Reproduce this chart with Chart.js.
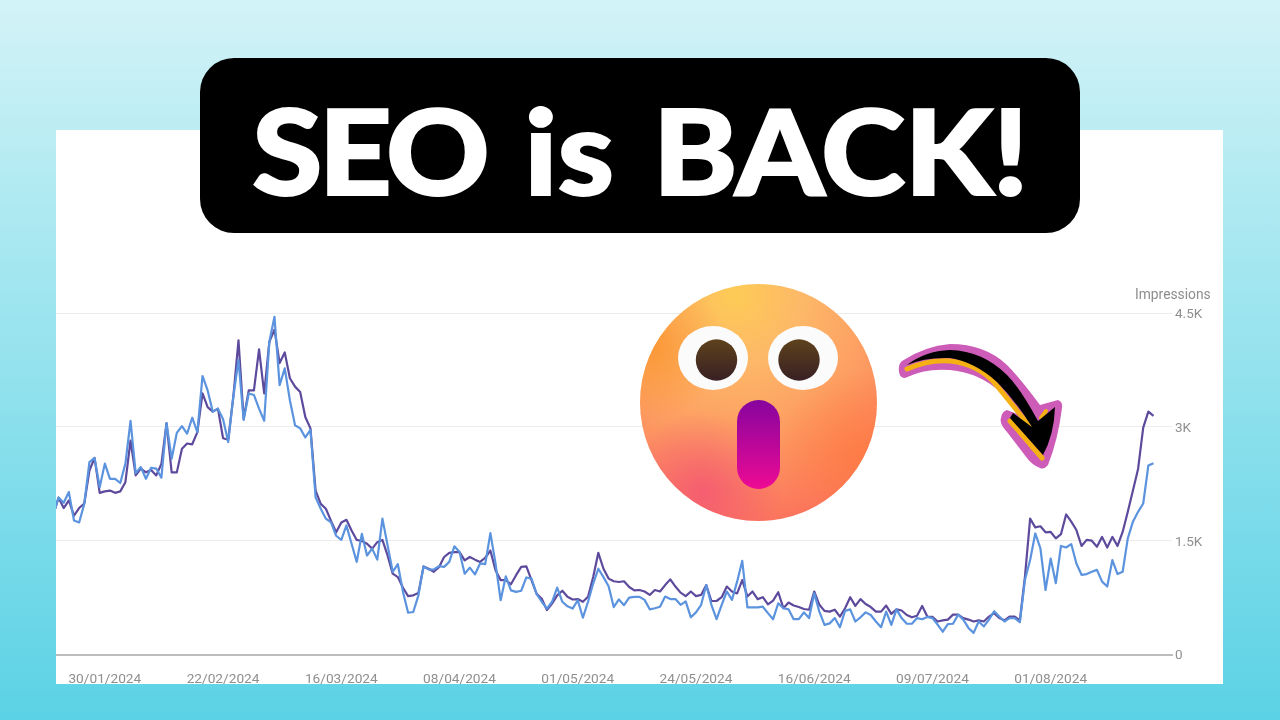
<!DOCTYPE html>
<html>
<head>
<meta charset="utf-8">
<title>SEO is BACK!</title>
<script src="https://cdn.jsdelivr.net/npm/chart.js@4"></script>
<style>
  html, body { margin: 0; padding: 0; }
  body {
    width: 1280px; height: 720px; position: relative; overflow: hidden;
    background: linear-gradient(180deg, #d3f3f7 0%, #a6e7f0 35%, #5bd2e5 100%);
    font-family: Roboto, sans-serif;
  }
  #panel { position: absolute; left: 56px; top: 130px; width: 1167px; height: 554px; background: #fff; overflow: hidden; }
  #growthChart { position: absolute; left: 0; top: 0; filter: blur(0.45px); }
  #metric { position: absolute; left: 1135px; top: 286px; font-size: 13.8px; color: #8d8d8d; filter: blur(0.3px); }
  #pill {
    position: absolute; left: 200px; top: 58px; width: 880px; height: 175px;
    background: #000; border-radius: 34px; color: #fff; text-align: center;
    font: 900 128px/175px Lato, sans-serif; white-space: nowrap;
  }
  #pill .title {
    display: inline-block; transform: scaleY(0.92); transform-origin: 50% 80%;
    -webkit-text-stroke: 2px #fff; word-spacing: 8px;
  }
  #pill .w1 { letter-spacing: -4px; }
  #pill .w3 { letter-spacing: -1px; }
  svg { position: absolute; left: 0; top: 0; }
</style>
</head>
<body>
<div id="panel"><canvas id="growthChart" width="1167" height="554"></canvas></div>
<div id="metric">Impressions</div>
<div id="pill"><span class="title"><span class="w1">SEO</span> is <span class="w3">BACK!</span></span></div>
<svg width="1280" height="720" viewBox="0 0 1280 720">
  <defs>
    <radialGradient id="faceGlow" gradientUnits="userSpaceOnUse" cx="735" cy="295" r="240">
      <stop offset="0" stop-color="#fdcb55"/>
      <stop offset="0.28" stop-color="#fdb868"/>
      <stop offset="0.6" stop-color="#fd9c62"/>
      <stop offset="1" stop-color="#fb6f5c"/>
    </radialGradient>
    <radialGradient id="faceLeft" gradientUnits="userSpaceOnUse" cx="650" cy="345" r="75">
      <stop offset="0" stop-color="#fb9530" stop-opacity="0.9"/>
      <stop offset="1" stop-color="#fb9530" stop-opacity="0"/>
    </radialGradient>
    <radialGradient id="faceRight" gradientUnits="userSpaceOnUse" cx="860" cy="455" r="85">
      <stop offset="0" stop-color="#ff7a3c" stop-opacity="0.7"/>
      <stop offset="1" stop-color="#ff7a3c" stop-opacity="0"/>
    </radialGradient>
    <radialGradient id="faceRed" gradientUnits="userSpaceOnUse" cx="703" cy="492" r="80">
      <stop offset="0" stop-color="#f45a72" stop-opacity="0.9"/>
      <stop offset="1" stop-color="#f45a72" stop-opacity="0"/>
    </radialGradient>
    <linearGradient id="pupil" x1="0" y1="0" x2="0" y2="1">
      <stop offset="0" stop-color="#5e421c"/>
      <stop offset="1" stop-color="#382024"/>
    </linearGradient>
    <linearGradient id="mouth" x1="0" y1="0" x2="0" y2="1">
      <stop offset="0" stop-color="#86049e"/>
      <stop offset="1" stop-color="#ee0a94"/>
    </linearGradient>
    <clipPath id="faceClip"><circle cx="758.5" cy="402.5" r="118.5"/></clipPath>
  </defs>
  <g clip-path="url(#faceClip)">
    <rect x="640" y="284" width="237" height="237" fill="url(#faceGlow)"/>
    <rect x="640" y="284" width="237" height="237" fill="url(#faceLeft)"/>
    <rect x="640" y="284" width="237" height="237" fill="url(#faceRight)"/>
    <rect x="640" y="284" width="237" height="237" fill="url(#faceRed)"/>
  </g>
  <ellipse cx="713" cy="358" rx="35" ry="32" fill="#fbfbfb"/>
  <ellipse cx="803" cy="358" rx="35" ry="32" fill="#fbfbfb"/>
  <circle cx="716.5" cy="360" r="20.7" fill="url(#pupil)"/>
  <circle cx="799" cy="360" r="20.7" fill="url(#pupil)"/>
  <rect x="737" y="400" width="43" height="89" rx="21.5" fill="url(#mouth)"/>
  <path fill="#cc5cb8"
    d="M899 372 Q898 364 902 361 Q925 346 950 344 Q985 344 1007 365 Q1020 378 1040 405 L1058 400 Q1063 402 1062 408 Q1058 440 1048 465 Q1044 470 1040 468 Q1032 465 1027 458 L1007 432 Q999 423 1001 418 Q1002 411 1007 410 L1020 415 Q1012 402 1000 392 Q980 373 950 370 Q925 368 905 378 Q900 378 899 372 Z"/>
  <g fill="none" stroke="#f5b014" stroke-linecap="round">
    <path d="M907 369 Q930 359 950 361 Q980 364 998 387 L1031 428" stroke-width="5"/>
    <path d="M1010 421 L1042 458" stroke-width="5"/>
    <path d="M1041 418 L1046 411" stroke-width="4"/>
  </g>
  <path fill="#000"
    d="M907 365 Q925 351 950 350 Q983 351 1007 375 Q1020 388 1038 421 L1055 407 Q1054 435 1043 455 L1010 418 L1013 413 L1032 427 Q1015 400 997 382 Q975 362 950 358 Q925 357 907 365 Z"/>
</svg>
<script>
const firstDay = new Date(2024, 0, 20);
const tickLabels = ['30/01/2024', '22/02/2024', '16/03/2024', '08/04/2024', '01/05/2024',
  '24/05/2024', '16/06/2024', '09/07/2024', '01/08/2024'];
const valueTicks = { 0: '0', 1500: '1.5K', 3000: '3K', 4500: '4.5K' };

const darkSeries = [
  1850, 2065, 1930, 2030, 1830, 1930, 1990, 2425, 2590, 2130,
  2150, 2160, 2130, 2150, 2270, 2820, 2360, 2450, 2400, 2430,
  2360, 2510, 3050, 2400, 2400, 2710, 2780, 2770, 2930, 3440,
  3260, 3200, 3240, 2850, 2830, 3400, 4140, 3110, 3480, 3480,
  4020, 3440, 4120, 4280, 3840, 3980, 3640, 3530, 3460, 3130,
  2980, 2160, 1985, 1920, 1760, 1610, 1740, 1775, 1635, 1510,
  1495, 1460, 1395, 1480, 1510, 1305, 1065, 1020, 880, 770,
  780, 810, 1160, 1130, 1090, 1150, 1285, 1340, 1350, 1350,
  1240, 1285, 1250, 1220, 1275, 1370, 1110, 980, 980, 925,
  1045, 1155, 1160, 980, 800, 735, 585, 670, 780, 840,
  760, 725, 730, 695, 760, 1020, 1340, 1130, 1000, 965,
  955, 965, 890, 845, 850, 830, 785, 850, 830, 915,
  990, 895, 815, 770, 830, 770, 785, 915, 705, 705,
  755, 895, 830, 805, 980, 765, 830, 730, 755, 660,
  710, 820, 610, 685, 645, 625, 600, 590, 830, 655,
  575, 565, 590, 500, 610, 755, 640, 730, 665, 625,
  565, 565, 645, 535, 595, 580, 520, 490, 510, 640,
  500, 495, 435, 450, 460, 525, 525, 480, 460, 435,
  450, 435, 500, 545, 480, 450, 500, 500, 450, 1030,
  1790, 1675, 1690, 1610, 1615, 1530, 1585, 1845, 1750, 1640,
  1430, 1510, 1500, 1420, 1550, 1410, 1550, 1430, 1615, 1880,
  2160, 2445, 2990, 3200, 3145
];

const blueSeries = [
  1850, 2070, 2000, 2140, 1765, 1740, 1985, 2535, 2590, 2205,
  2515, 2315, 2315, 2260, 2515, 3080, 2390, 2470, 2315, 2460,
  2450, 2330, 3050, 2580, 2920, 3010, 2910, 3120, 2930, 3670,
  3480, 3200, 3240, 3100, 2800, 3400, 3880, 3090, 3440, 3420,
  3240, 3080, 4120, 4450, 3550, 3770, 3350, 3020, 2980, 2860,
  2960, 2070, 1920, 1790, 1740, 1565, 1510, 1700, 1460, 1220,
  1590, 1305, 1395, 1250, 1790, 1440, 1090, 1190, 825, 550,
  560, 780, 1160, 1120, 1120, 1165, 1155, 1220, 1425, 1350,
  1065, 1145, 1055, 1200, 1190, 1600, 1200, 715, 1030, 845,
  825, 840, 1015, 1000, 795, 695, 605, 695, 880, 695,
  635, 605, 715, 485, 695, 935, 1130, 1020, 900, 625,
  725, 650, 750, 760, 760, 720, 595, 610, 630, 763,
  730, 730, 655, 700, 490, 555, 655, 915, 655, 465,
  655, 830, 720, 960, 1235, 620, 620, 620, 630, 545,
  465, 675, 610, 595, 465, 465, 555, 480, 805, 565,
  390, 410, 480, 360, 575, 595, 435, 490, 555, 520,
  435, 360, 565, 390, 595, 480, 405, 405, 480, 465,
  495, 480, 395, 300, 400, 405, 525, 460, 350, 285,
  435, 370, 460, 570, 500, 435, 480, 480, 425, 985,
  1245, 1595, 1400, 850, 1265, 940, 1430, 1410, 1455, 1200,
  1050, 1060, 1090, 1115, 960, 895, 1245, 1060, 1090, 1530,
  1750, 1880, 1990, 2490, 2520
];

// one label per day, the axis only shows the ones in tickLabels
const dayLabels = darkSeries.map((v, i) => {
  const d = new Date(firstDay.getFullYear(), firstDay.getMonth(), firstDay.getDate() + i);
  return String(d.getDate()).padStart(2, '0') + '/' + String(d.getMonth() + 1).padStart(2, '0') + '/' + d.getFullYear();
});

function toPoints(values) {
  return values.map((v, i) => ({ x: i, y: v }));
}

const ctx = document.getElementById('growthChart').getContext('2d');
new Chart(ctx, {
  type: 'line',
  data: {
    // first dataset is painted last, the blue line sits on top
    datasets: [
      { label: 'Impressions (previous)', data: toPoints(blueSeries), borderColor: '#5b93de', borderWidth: 2.2, borderJoinStyle: 'round', pointRadius: 0, tension: 0 },
      { label: 'Impressions (current)', data: toPoints(darkSeries), borderColor: '#5d4a9c', borderWidth: 2.2, borderJoinStyle: 'round', pointRadius: 0, tension: 0 }
    ]
  },
  options: {
    responsive: false,
    animation: false,
    parsing: false,
    layout: { padding: { top: 183, left: 0, right: 0, bottom: 0 } },
    plugins: { legend: { display: false }, tooltip: { enabled: false } },
    scales: {
      x: {
        type: 'linear',
        min: 0.5,
        max: 217.6,
        afterBuildTicks: (scale) => {
          scale.ticks = tickLabels.map(t => ({ value: dayLabels.indexOf(t) }));
        },
        afterFit: (scale) => {
          scale.height = 29.5;
          scale.paddingLeft = 0;
          scale.paddingRight = 0;
        },
        grid: { display: false, drawTicks: false },
        border: { color: '#bdbdbd', width: 2 },
        ticks: {
          autoSkip: false,
          maxRotation: 0,
          padding: 17,
          color: '#8f8f8f',
          font: { family: 'Roboto', size: 13.7 },
          callback: (v) => dayLabels[v]
        }
      },
      y: {
        position: 'right',
        min: 0,
        max: 4500,
        afterFit: (scale) => { scale.width = 51; },
        grid: { color: '#ececec', drawTicks: false },
        border: { display: false },
        ticks: {
          stepSize: 1500,
          padding: 3,
          labelOffset: 1.5,
          color: '#8f8f8f',
          font: { family: 'Roboto', size: 13.5 },
          callback: (v) => valueTicks[v]
        }
      }
    }
  }
});
</script>
</body>
</html>
